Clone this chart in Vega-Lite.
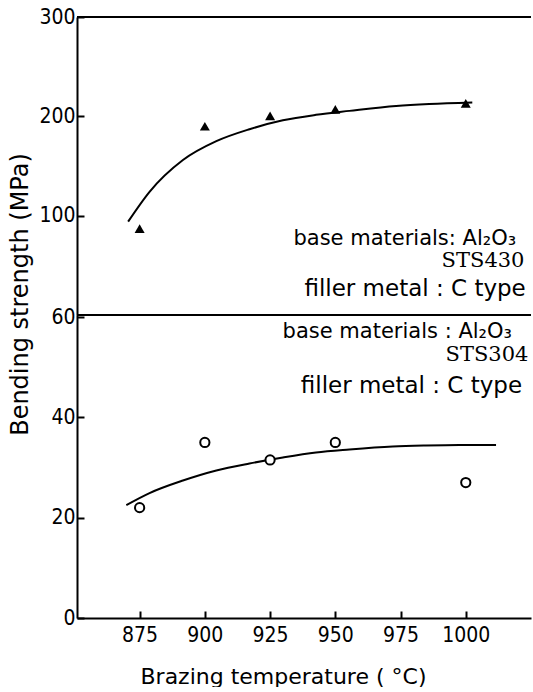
{
  "$schema": "https://vega.github.io/schema/vega-lite/v6.json",
  "background": "white",
  "padding": {"left": 8, "top": 6, "right": 0, "bottom": 0},
  "spacing": 0,
  "bounds": "flush",
  "config": {
    "view": {"stroke": null},
    "axis": {
      "grid": false,
      "domainColor": "black",
      "domainWidth": 2,
      "tickColor": "black",
      "tickWidth": 2,
      "tickSize": -7,
      "labelColor": "black",
      "labelFont": "DejaVu Sans Condensed",
      "labelFontSize": 21,
      "labelFlush": false,
      "labelOverlap": false,
      "titleColor": "black",
      "titleFont": "DejaVu Sans",
      "titleFontSize": 22,
      "titleFontWeight": "normal"
    }
  },
  "datasets": {
    "upperCurve": [
      {"t": 870.6, "v": 94}, {"t": 878.8, "v": 124}, {"t": 891.6, "v": 156},
      {"t": 904.4, "v": 175}, {"t": 917.1, "v": 187}, {"t": 929.9, "v": 196},
      {"t": 942.6, "v": 201.5}, {"t": 955.4, "v": 205.5}, {"t": 973.3, "v": 210.5},
      {"t": 986, "v": 212.5}, {"t": 1002.5, "v": 214}
    ],
    "upperPts": [
      {"t": 875, "v": 87}, {"t": 900, "v": 190}, {"t": 925, "v": 200.5},
      {"t": 950, "v": 207}, {"t": 1000, "v": 213}
    ],
    "upperText": [
      {"t": 1019.3, "v": 70.5, "label": "base materials: Al₂O₃", "kind": "base"},
      {"t": 1022.5, "v": 48.5, "label": "STS430", "kind": "grade"},
      {"t": 1023, "v": 19.1, "label": "filler metal : C type", "kind": "filler"}
    ],
    "lowerCurve": [
      {"t": 869.9, "v": 22.5}, {"t": 878.8, "v": 24.9}, {"t": 891.6, "v": 27.4},
      {"t": 904.4, "v": 29.4}, {"t": 917.1, "v": 30.8}, {"t": 929.9, "v": 32},
      {"t": 942.6, "v": 33}, {"t": 955.4, "v": 33.6}, {"t": 972, "v": 34.2},
      {"t": 984.7, "v": 34.4}, {"t": 997.5, "v": 34.5}, {"t": 1011.6, "v": 34.5}
    ],
    "lowerPts": [
      {"t": 875, "v": 22}, {"t": 900, "v": 35}, {"t": 925, "v": 31.5},
      {"t": 950, "v": 35}, {"t": 1000, "v": 27}
    ],
    "lowerText": [
      {"t": 1017.7, "v": 55.8, "label": "base materials : Al₂O₃", "kind": "base"},
      {"t": 1024, "v": 51.2, "label": "STS304", "kind": "grade"},
      {"t": 1021.6, "v": 44.85, "label": "filler metal : C type", "kind": "filler"}
    ]
  },
  "vconcat": [
    {
      "width": 454,
      "height": 298,
      "data": {"name": "upperPts"},
      "layer": [
        {
          "mark": {"type": "rule", "color": "black", "strokeWidth": 2},
          "encoding": {"y": {"datum": 300, "type": "quantitative"}}
        },
        {
          "mark": {"type": "rule", "color": "black", "strokeWidth": 2},
          "encoding": {"y": {"datum": 0, "type": "quantitative"}}
        },
        {
          "data": {"name": "upperCurve"},
          "mark": {"type": "line", "interpolate": "monotone", "color": "black", "strokeWidth": 2},
          "encoding": {
            "x": {"field": "t", "type": "quantitative", "scale": {"domain": [851, 1025], "nice": false, "zero": false}, "axis": null},
            "y": {"field": "v", "type": "quantitative", "scale": {"domain": [0, 300], "nice": false}, "axis": {"values": [100, 200, 300], "title": "Bending strength (MPa)", "titleFontSize": 24, "titleAngle": -90, "titleX": -57, "titleY": 277, "titleAlign": "center", "titleBaseline": "middle", "labelPadding": 9}}
          }
        },
        {
          "mark": {"type": "point", "shape": "triangle-up", "filled": true, "color": "black", "size": 100, "opacity": 1},
          "encoding": {
            "x": {"field": "t", "type": "quantitative"},
            "y": {"field": "v", "type": "quantitative"}
          }
        },
        {
          "data": {"name": "upperText"},
          "transform": [{"filter": "datum.kind === 'base'"}],
          "mark": {"type": "text", "align": "right", "baseline": "alphabetic", "font": "DejaVu Sans", "fontSize": 21, "color": "black"},
          "encoding": {
            "x": {"field": "t", "type": "quantitative"},
            "y": {"field": "v", "type": "quantitative"},
            "text": {"field": "label"}
          }
        },
        {
          "data": {"name": "upperText"},
          "transform": [{"filter": "datum.kind === 'filler'"}],
          "mark": {"type": "text", "align": "right", "baseline": "alphabetic", "font": "DejaVu Sans", "fontSize": 23, "color": "black"},
          "encoding": {
            "x": {"field": "t", "type": "quantitative"},
            "y": {"field": "v", "type": "quantitative"},
            "text": {"field": "label"}
          }
        },
        {
          "data": {"name": "upperText"},
          "transform": [{"filter": "datum.kind === 'grade'"}],
          "mark": {"type": "text", "align": "right", "baseline": "alphabetic", "font": "DejaVu Serif", "fontSize": 21, "color": "black"},
          "encoding": {
            "x": {"field": "t", "type": "quantitative"},
            "y": {"field": "v", "type": "quantitative"},
            "text": {"field": "label"}
          }
        }
      ]
    },
    {
      "width": 454,
      "height": 303,
      "layer": [
        {
          "data": {"name": "lowerCurve"},
          "mark": {"type": "line", "interpolate": "monotone", "color": "black", "strokeWidth": 2},
          "encoding": {
            "x": {"field": "t", "type": "quantitative", "scale": {"domain": [851, 1025], "nice": false, "zero": false}, "axis": {"values": [875, 900, 925, 950, 975, 1000], "format": "d", "title": "Brazing temperature ( °C)", "titleX": 63, "titleY": 65, "titleAlign": "left", "titleBaseline": "alphabetic", "labelPadding": 13}},
            "y": {"field": "v", "type": "quantitative", "scale": {"domain": [0, 60.4], "nice": false}, "axis": {"values": [0, 20, 40, 60], "title": null, "labelPadding": 9}}
          }
        },
        {
          "data": {"name": "lowerPts"},
          "mark": {"type": "point", "shape": "circle", "fill": "white", "stroke": "black", "strokeWidth": 2, "size": 85, "opacity": 1},
          "encoding": {
            "x": {"field": "t", "type": "quantitative"},
            "y": {"field": "v", "type": "quantitative"}
          }
        },
        {
          "data": {"name": "lowerText"},
          "transform": [{"filter": "datum.kind === 'base'"}],
          "mark": {"type": "text", "align": "right", "baseline": "alphabetic", "font": "DejaVu Sans", "fontSize": 21, "color": "black"},
          "encoding": {
            "x": {"field": "t", "type": "quantitative"},
            "y": {"field": "v", "type": "quantitative"},
            "text": {"field": "label"}
          }
        },
        {
          "data": {"name": "lowerText"},
          "transform": [{"filter": "datum.kind === 'filler'"}],
          "mark": {"type": "text", "align": "right", "baseline": "alphabetic", "font": "DejaVu Sans", "fontSize": 23, "color": "black"},
          "encoding": {
            "x": {"field": "t", "type": "quantitative"},
            "y": {"field": "v", "type": "quantitative"},
            "text": {"field": "label"}
          }
        },
        {
          "data": {"name": "lowerText"},
          "transform": [{"filter": "datum.kind === 'grade'"}],
          "mark": {"type": "text", "align": "right", "baseline": "alphabetic", "font": "DejaVu Serif", "fontSize": 21, "color": "black"},
          "encoding": {
            "x": {"field": "t", "type": "quantitative"},
            "y": {"field": "v", "type": "quantitative"},
            "text": {"field": "label"}
          }
        }
      ]
    }
  ]
}
